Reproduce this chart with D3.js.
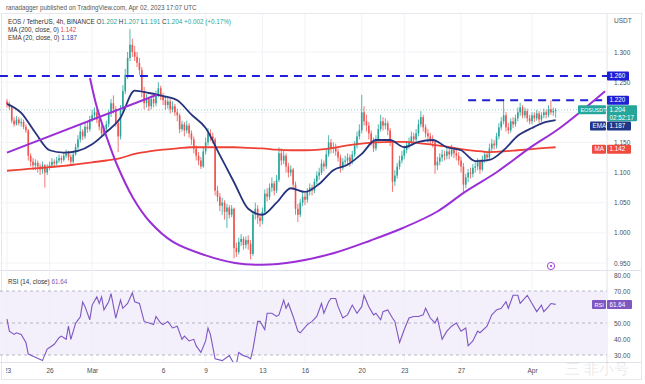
<!DOCTYPE html>
<html lang="en">
<head>
<meta charset="UTF-8">
<title>EOS / TetherUS 4h</title>
<style>
    body { margin: 0; background: #fff; }
    svg text { font-family: "Liberation Sans", Arial, sans-serif; }
    .axis text { font-size: 6.5px; fill: #4a4e59; }
    .axis path, .axis line { stroke: none; }
</style>
</head>
<body>
<script src="https://d3js.org/d3.v7.min.js"></script>
<script>
// 4h candles, EOS/USDT, starting Feb 23 2023 00:00 UTC
var firstOpen = 1.218;
var closes = [
    1.214,1.208,1.186,1.180,1.188,1.182, 1.184,1.176,1.170,1.128,1.118,1.112,
    1.116,1.110,1.105,1.112,1.100,1.108, 1.112,1.118,1.115,1.120,1.124,1.121,
    1.128,1.132,1.126,1.118,1.130,1.142, 1.155,1.168,1.160,1.176,1.172,1.188,
    1.195,1.200,1.188,1.176,1.165,1.172, 1.180,1.198,1.215,1.205,1.182,1.160,
    1.205,1.235,1.262,1.290,1.312,1.300, 1.292,1.282,1.270,1.235,1.215,1.222,
    1.210,1.222,1.215,1.230,1.240,1.226, 1.220,1.212,1.218,1.205,1.210,1.200,
    1.195,1.172,1.180,1.170,1.178,1.165, 1.155,1.140,1.128,1.120,1.110,1.135,
    1.150,1.165,1.160,1.155,1.070,1.060, 1.045,1.050,1.035,1.042,1.030,1.040,
    0.975,0.968,0.985,0.990,0.980,0.988, 0.982,0.965,1.030,1.040,1.025,1.020,
    1.035,1.065,1.060,1.075,1.082,1.070, 1.088,1.132,1.120,1.128,1.110,1.100,
    1.105,1.080,1.040,1.030,1.050,1.060, 1.055,1.068,1.075,1.070,1.085,1.095,
    1.100,1.115,1.110,1.130,1.150,1.140, 1.142,1.135,1.125,1.108,1.118,1.120,
    1.125,1.118,1.130,1.145,1.160,1.170, 1.200,1.185,1.178,1.165,1.150,1.140,
    1.155,1.172,1.185,1.178,1.182,1.170, 1.150,1.085,1.095,1.110,1.120,1.128,
    1.138,1.145,1.150,1.160,1.155,1.165, 1.180,1.192,1.175,1.165,1.160,1.155,
    1.150,1.112,1.118,1.125,1.130,1.128, 1.135,1.130,1.138,1.132,1.128,1.120,
    1.110,1.080,1.092,1.100,1.098,1.108, 1.110,1.118,1.105,1.122,1.130,1.125,
    1.140,1.148,1.145,1.160,1.175,1.185, 1.195,1.175,1.170,1.185,1.180,1.190,
    1.200,1.208,1.195,1.202,1.190,1.185, 1.195,1.190,1.198,1.188,1.195,1.200,
    1.196,1.205,1.200,1.202,1.204
];
var highs = [
    1.222,1.218,1.210,1.192,1.194,1.192, 1.190,1.188,1.180,1.172,1.132,1.124,
    1.122,1.120,1.115,1.118,1.114,1.114, 1.118,1.124,1.122,1.126,1.130,1.128,
    1.134,1.138,1.136,1.130,1.136,1.148, 1.162,1.180,1.172,1.182,1.184,1.194,
    1.204,1.208,1.204,1.192,1.180,1.178, 1.186,1.204,1.222,1.228,1.210,1.186,
    1.212,1.245,1.272,1.300,1.338,1.322, 1.310,1.300,1.290,1.275,1.242,1.230,
    1.226,1.228,1.228,1.236,1.250,1.244, 1.232,1.226,1.224,1.222,1.218,1.214,
    1.206,1.198,1.186,1.184,1.186,1.182, 1.170,1.160,1.145,1.134,1.126,1.142,
    1.158,1.174,1.172,1.166,1.158,1.078, 1.066,1.058,1.054,1.048,1.046,1.046,
    1.042,0.984,0.992,0.998,0.994,0.994, 0.996,0.988,1.036,1.050,1.046,1.032,
    1.042,1.072,1.074,1.082,1.092,1.086, 1.096,1.142,1.140,1.136,1.132,1.116,
    1.112,1.108,1.085,1.048,1.056,1.068, 1.066,1.074,1.082,1.080,1.090,1.102,
    1.108,1.122,1.120,1.138,1.162,1.156, 1.150,1.148,1.140,1.130,1.124,1.128,
    1.132,1.130,1.136,1.152,1.168,1.180, 1.229,1.210,1.196,1.184,1.170,1.158,
    1.162,1.180,1.196,1.192,1.190,1.186, 1.174,1.152,1.104,1.116,1.128,1.136,
    1.145,1.152,1.158,1.168,1.166,1.172, 1.188,1.202,1.196,1.180,1.172,1.166,
    1.162,1.154,1.126,1.132,1.138,1.136, 1.142,1.140,1.146,1.142,1.138,1.134,
    1.126,1.116,1.098,1.106,1.108,1.114, 1.118,1.124,1.122,1.128,1.136,1.134,
    1.148,1.156,1.154,1.166,1.182,1.192, 1.222,1.200,1.182,1.190,1.192,1.196,
    1.208,1.216,1.212,1.208,1.206,1.196, 1.200,1.200,1.204,1.202,1.200,1.206,
    1.204,1.212,1.220,1.208,1.207
];
var lows = [
    1.208,1.204,1.182,1.176,1.178,1.178, 1.176,1.172,1.166,1.120,1.110,1.104,
    1.104,1.100,1.096,1.098,1.075,1.096, 1.104,1.108,1.110,1.112,1.116,1.115,
    1.118,1.124,1.120,1.112,1.115,1.128, 1.138,1.150,1.154,1.156,1.166,1.168,
    1.184,1.190,1.182,1.170,1.158,1.160, 1.166,1.175,1.192,1.198,1.176,1.134,
    1.155,1.200,1.230,1.255,1.285,1.292, 1.285,1.275,1.262,1.225,1.205,1.208,
    1.202,1.205,1.208,1.210,1.225,1.220, 1.212,1.204,1.206,1.198,1.200,1.194,
    1.185,1.165,1.168,1.160,1.165,1.158, 1.146,1.132,1.120,1.112,1.106,1.108,
    1.130,1.145,1.152,1.148,1.062,1.052, 1.036,1.030,1.022,1.008,1.024,1.026,
    0.958,0.960,0.964,0.978,0.972,0.974, 0.972,0.956,0.962,1.022,1.015,1.010,
    1.014,1.030,1.052,1.055,1.068,1.062, 1.066,1.084,1.112,1.114,1.100,1.092,
    1.094,1.072,1.030,1.018,1.026,1.044, 1.046,1.050,1.062,1.062,1.066,1.080,
    1.088,1.096,1.102,1.106,1.126,1.132, 1.132,1.128,1.118,1.100,1.104,1.112,
    1.114,1.110,1.114,1.126,1.140,1.155, 1.165,1.178,1.168,1.155,1.145,1.134,
    1.136,1.150,1.168,1.170,1.172,1.162, 1.144,1.068,1.078,1.090,1.105,1.115,
    1.122,1.132,1.140,1.145,1.148,1.150, 1.160,1.175,1.168,1.158,1.150,1.146,
    1.142,1.098,1.104,1.112,1.118,1.120, 1.122,1.122,1.126,1.124,1.120,1.112,
    1.100,1.068,1.074,1.084,1.090,1.092, 1.100,1.104,1.098,1.102,1.116,1.118,
    1.122,1.134,1.138,1.140,1.155,1.170, 1.180,1.168,1.164,1.166,1.174,1.176,
    1.185,1.194,1.190,1.190,1.184,1.180, 1.180,1.184,1.186,1.182,1.184,1.190,
    1.190,1.192,1.196,1.194,1.191
];
// EMA 20 and MA 200 read once a day (every 6 candles) plus the last candle
var emaVals = [1.214,1.199,1.166,1.137,1.133,1.136,1.147,1.167,1.191,1.236,1.232,1.227,1.220,
    1.196,1.174,1.129,1.084,1.040,1.030,1.050,1.074,1.068,1.081,1.104,1.113,1.131,1.154,
    1.154,1.142,1.151,1.154,1.142,1.137,1.119,1.121,1.137,1.161,1.174,1.184,1.187];
var maVals = [1.103,1.105,1.107,1.109,1.111,1.114,1.117,1.120,1.124,1.131,1.135,1.138,1.140,
    1.142,1.142,1.142,1.142,1.141,1.140,1.138,1.137,1.137,1.138,1.141,1.145,1.148,1.150,
    1.151,1.151,1.149,1.146,1.143,1.139,1.136,1.134,1.135,1.137,1.139,1.141,1.142];
// RSI 14, read at candle indexes
var rsiIdx = [0,1,3,4,6,8,9,12,15,17,18,20,22,23,25,26,27,29,31,32,33,35,36,38,39,40,41,43,44,46,48,49,51,53,54,56,58,
    62,63,65,66,68,70,72,74,75,77,79,80,82,84,85,86,88,91,93,94,96,97,98,100,102,103,104,106,107,109,110,112,114,115,
    117,118,119,121,123,124,127,129,131,133,134,136,137,139,140,142,144,146,148,150,151,153,155,156,158,159,161,163,
    164,166,168,170,172,174,176,177,179,181,182,184,186,188,190,192,194,195,197,199,200,203,205,207,209,211,212,214,
    216,217,220,222,224,226,227,229,230,232];
var rsiVals = [52.4,44.9,42.9,43.9,42.9,37.8,30.6,28.6,26.5,33.7,34.7,36.7,40.8,41.8,39.8,48.0,39.8,49.8,53.9,63.1,
    60.2,52.0,61.2,66.3,62.2,66.3,58.2,63.3,68.4,53.1,64.3,59.2,62.2,68.8,63.3,62.2,51.0,
    49.0,54.1,50.0,49.0,51.0,46.9,48.0,39.8,41.8,38.8,39.8,35.7,31.6,38.8,46.9,42.9,27.6,26.5,28.6,29.6,24.5,24.5,
    31.6,29.6,28.6,27.6,33.7,51.0,51.0,45.9,56.1,56.1,54.1,55.1,64.3,59.2,62.2,54.1,44.9,43.9,49.0,51.0,54.1,62.2,
    56.1,63.3,65.3,65.3,60.2,53.1,55.1,61.2,56.1,60.2,67.3,60.2,55.1,56.1,52.0,57.1,58.2,53.1,51.0,37.8,45.9,53.1,
    54.1,54.1,55.1,59.2,53.1,50.0,53.1,39.8,44.9,48.0,50.0,44.9,46.9,35.7,38.8,44.9,43.9,48.0,55.1,58.2,59.2,63.3,
    59.2,67.3,67.3,62.2,67.3,62.2,57.1,61.2,57.1,60.2,62.2,61.64];
// drawn annotations: rounding-bottom arc, rising trendline, resistance levels
var arcIdx = [35.1,38.1,42.3,46.5,53.3,60.5,70.2,83.7,96.4,107.8,121.8,138.7,153.5,167.4,181.8,193.7,207.2,221.1,233.8,252.9];
var arcPrice = [1.257,1.207,1.157,1.113,1.058,1.018,0.985,0.963,0.950,0.947,0.952,0.967,0.987,1.008,1.035,1.068,1.101,1.141,1.174,1.235];
var trendIdx = [0, 63.4];
var trendPrice = [1.133, 1.229];
var levels = [1.260, 1.220];
var levelStart = [-3, 195];
// 1.200 and 60.00 sit under the value tags in the original, so they are not listed
var priceTicks = [0.95, 1.00, 1.05, 1.10, 1.15, 1.25, 1.30];
var rsiTicks = [30, 40, 50, 70, 80];
var dayTicks = ["2023-02-23","2023-02-26","2023-03-01","2023-03-06","2023-03-09","2023-03-13",
    "2023-03-16","2023-03-20","2023-03-23","2023-03-27","2023-04-01"];
var dayLabels = ["23","26","Mar","6","9","13","16","20","23","27","Apr"];

var width = 645, height = 384;
var axisX = 607;
var up = "#26a69a", down = "#ef5350", blue = "#1f1fd6", purple = "#9b2fd6";
var emaColor = "#26337d", maColor = "#ef4136", rsiColor = "#7e57c2";

var t0 = Date.UTC(2023, 1, 23), H4 = 4 * 3600 * 1000;
function tAt(i) { return new Date(t0 + i * H4); }

var x = d3.scaleTime().domain([tAt(0), tAt(253)]).range([7, 605.3]);
var y = d3.scaleLinear().domain([0.95, 1.30]).range([263, 52]);
var yr = d3.scaleLinear().domain([30, 70]).range([355, 291]);

var candles = closes.map(function (c, i) {
    var o = i ? closes[i - 1] : firstOpen;
    return { t: tAt(i), o: o, c: c, h: Math.max(highs[i], o, c), l: Math.min(lows[i], o, c) };
});
var sampleIdx = d3.range(0, 229, 6).concat([232]);

var svg = d3.select('body').append('svg').attr('width', width).attr('height', height);
var defs = svg.append('defs');
defs.append('clipPath').attr('id', 'pclip').append('rect').attr('x', 0).attr('y', 14).attr('width', axisX).attr('height', 256);
defs.append('clipPath').attr('id', 'rclip').append('rect').attr('x', 0).attr('y', 271).attr('width', axisX).attr('height', 91);
defs.append('clipPath').attr('id', 'tclip').append('rect').attr('x', 6).attr('y', 362).attr('width', axisX - 6).attr('height', 20);

// header
svg.append('text').attr('x', 6).attr('y', 10).attr('font-size', 6.3).attr('fill', '#555')
    .text('ranadagger published on TradingView.com, Apr 02, 2023 17:07 UTC');

// frame and panel separators
svg.append('rect').attr('x', 1.5).attr('y', 13.5).attr('width', 640).attr('height', 366)
    .attr('fill', 'none').attr('stroke', '#e6e8ee');
svg.append('line').attr('x1', axisX).attr('x2', axisX).attr('y1', 14).attr('y2', 362).attr('stroke', '#e0e3eb');
svg.append('line').attr('x1', 0).attr('x2', 641).attr('y1', 270.5).attr('y2', 270.5).attr('stroke', '#e0e3eb');
svg.append('line').attr('x1', 0).attr('x2', 641).attr('y1', 362.5).attr('y2', 362.5).attr('stroke', '#e0e3eb');

// RSI background band
svg.append('rect').attr('x', 0).attr('y', yr(70)).attr('width', axisX).attr('height', yr(30) - yr(70)).attr('fill', '#f3effb');

// grid
var grid = svg.append('g').attr('stroke', '#eef0f5').attr('stroke-width', 0.8);
grid.selectAll('line.v').data(dayTicks).join('line')
    .attr('x1', function (d) { return x(new Date(d + 'T00:00:00Z')); })
    .attr('x2', function (d) { return x(new Date(d + 'T00:00:00Z')); })
    .attr('y1', 14).attr('y2', 362);
grid.selectAll('line.h').data(priceTicks.concat([1.20])).join('line')
    .attr('x1', 0).attr('x2', axisX).attr('y1', function (d) { return y(d); }).attr('y2', function (d) { return y(d); });

// RSI dashed guides
svg.append('g').selectAll('line').data([70, 50, 30]).join('line')
    .attr('x1', 0).attr('x2', axisX).attr('y1', function (d) { return yr(d); }).attr('y2', function (d) { return yr(d); })
    .attr('stroke', '#9a9fab').attr('stroke-width', 0.7).attr('stroke-dasharray', '3,3');

// price panel
var pg = svg.append('g').attr('clip-path', 'url(#pclip)');

// last price dotted line
pg.append('line').attr('x1', 0).attr('x2', axisX).attr('y1', y(1.204)).attr('y2', y(1.204))
    .attr('stroke', up).attr('stroke-width', 0.7).attr('stroke-dasharray', '1,2').attr('opacity', 0.7);

pg.selectAll('line.wick').data(candles).join('line').attr('class', 'wick')
    .attr('x1', function (d) { return x(d.t); }).attr('x2', function (d) { return x(d.t); })
    .attr('y1', function (d) { return y(d.h); }).attr('y2', function (d) { return y(d.l); })
    .attr('stroke', function (d) { return d.c >= d.o ? up : down; }).attr('stroke-width', 0.8);
pg.selectAll('rect.body').data(candles).join('rect').attr('class', 'body')
    .attr('x', function (d) { return x(d.t) - 0.8; }).attr('width', 1.6)
    .attr('y', function (d) { return y(Math.max(d.o, d.c)); })
    .attr('height', function (d) { return Math.max(0.8, Math.abs(y(d.o) - y(d.c))); })
    .attr('fill', function (d) { return d.c >= d.o ? up : down; });

var lineIdx = d3.line().curve(d3.curveMonotoneX)
    .x(function (d) { return x(tAt(d[0])); }).y(function (d) { return y(d[1]); });
pg.append('path').datum(sampleIdx.map(function (k, i) { return [k, maVals[i]]; }))
    .attr('d', lineIdx).attr('fill', 'none').attr('stroke', maColor).attr('stroke-width', 1.8);
pg.append('path').datum(sampleIdx.map(function (k, i) { return [k, emaVals[i]]; }))
    .attr('d', lineIdx).attr('fill', 'none').attr('stroke', emaColor).attr('stroke-width', 1.8);

// resistance levels
pg.selectAll('line.lvl').data(levels).join('line')
    .attr('x1', function (d, i) { return x(tAt(levelStart[i])); }).attr('x2', axisX)
    .attr('y1', function (d) { return y(d); }).attr('y2', function (d) { return y(d); })
    .attr('stroke', blue).attr('stroke-width', 2).attr('stroke-dasharray', '8,6');

// trendline and arc
pg.append('line')
    .attr('x1', x(tAt(trendIdx[0]))).attr('y1', y(trendPrice[0]))
    .attr('x2', x(tAt(trendIdx[1]))).attr('y2', y(trendPrice[1]))
    .attr('stroke', purple).attr('stroke-width', 2);
pg.append('path').datum(arcIdx.map(function (k, i) { return [k, arcPrice[i]]; }))
    .attr('d', d3.line().curve(d3.curveCatmullRom)
        .x(function (d) { return x(tAt(d[0])); }).y(function (d) { return y(d[1]); }))
    .attr('fill', 'none').attr('stroke', purple).attr('stroke-width', 2);

// small target icon
svg.append('circle').attr('cx', 551).attr('cy', 266).attr('r', 3.6).attr('fill', '#fff').attr('stroke', purple).attr('stroke-width', 0.9);
svg.append('circle').attr('cx', 551).attr('cy', 266).attr('r', 1.1).attr('fill', purple);

// RSI line
var rg = svg.append('g').attr('clip-path', 'url(#rclip)');
rg.append('path').datum(rsiIdx.map(function (k, i) { return [k, rsiVals[i]]; }))
    .attr('d', d3.line().x(function (d) { return x(tAt(d[0])); }).y(function (d) { return yr(d[1]); }))
    .attr('fill', 'none').attr('stroke', rsiColor).attr('stroke-width', 1.1);

// axes
svg.append('text').attr('x', 614).attr('y', 23).attr('font-size', 6.5).attr('fill', '#4a4e59').text('USDT');
svg.append('g').attr('class', 'axis').attr('transform', 'translate(' + axisX + ',0)')
    .call(d3.axisRight(y).tickValues(priceTicks).tickFormat(d3.format('.3f')).tickSize(0).tickPadding(7));
svg.append('g').attr('class', 'axis').attr('transform', 'translate(' + axisX + ',0)')
    .call(d3.axisRight(yr).tickValues(rsiTicks).tickFormat(d3.format('.2f')).tickSize(0).tickPadding(7));
svg.append('g').attr('class', 'axis').attr('clip-path', 'url(#tclip)').append('g')
    .attr('transform', 'translate(0,365)')
    .call(d3.axisBottom(x).tickValues(dayTicks.map(function (d) { return new Date(d + 'T00:00:00Z'); }))
        .tickFormat(function (d, i) { return dayLabels[i]; }).tickSize(0).tickPadding(3));

// right-side value tags (dy nudges a tag off its neighbour, as the original does)
function tag(x0, yc, w, h, fill, lines, fs) {
    svg.append('rect').attr('x', x0).attr('y', yc - 4.5).attr('width', w).attr('height', h).attr('rx', 1).attr('fill', fill);
    lines.forEach(function (s, i) {
        svg.append('text').attr('x', x0 + 2.5).attr('y', yc + 2.2 + i * 7.5).attr('font-size', fs || 6.3).attr('fill', '#fff').text(s);
    });
}
tag(axisX, y(levels[0]), 22, 9, blue, ['1.260']);
tag(axisX, y(levels[1]), 22, 9, blue, ['1.220']);
tag(578, y(1.204), 28, 9, up, ['EOSUSDT'], 5.4);
tag(axisX, y(1.204), 30, 16, up, ['1.204', '02:52:17']);
tag(590, y(1.187) + 6, 16, 9, '#1f3585', ['EMA']);
tag(axisX, y(1.187) + 6, 24, 9, '#1f3585', ['1.187']);
tag(592, y(1.142) + 2, 14, 9, '#f04b3f', ['MA']);
tag(axisX, y(1.142) + 2, 24, 9, '#f04b3f', ['1.142']);
tag(592, yr(61.64), 14, 9, rsiColor, ['RSI'], 5.6);
tag(axisX, yr(61.64), 25, 9, rsiColor, ['61.64']);

// legends
var lg = svg.append('g').attr('font-size', 6.3);
var l1 = lg.append('text').attr('x', 8).attr('y', 24).attr('fill', '#333');
l1.append('tspan').text('EOS / TetherUS, 4h, BINANCE  ');
[['O', '1.202'], ['H', '1.207'], ['L', '1.191'], ['C', '1.204']].forEach(function (p) {
    l1.append('tspan').attr('fill', '#333').text(' ' + p[0]);
    l1.append('tspan').attr('fill', up).text(p[1]);
});
l1.append('tspan').attr('fill', up).text(' +0.002 (+0.17%)');
var l2 = lg.append('text').attr('x', 8).attr('y', 32).attr('fill', '#333');
l2.append('tspan').text('MA (200, close, 0)  ');
l2.append('tspan').attr('fill', maColor).text('1.142');
var l3 = lg.append('text').attr('x', 8).attr('y', 40).attr('fill', '#333');
l3.append('tspan').text('EMA (20, close, 0)  ');
l3.append('tspan').attr('fill', '#2447a8').text('1.187');
var l4 = lg.append('text').attr('x', 8).attr('y', 284).attr('fill', '#333');
l4.append('tspan').text('RSI (14, close)  ');
l4.append('tspan').attr('fill', rsiColor).text('61.64');

// watermark
svg.append('text').attr('x', 597).attr('y', 374).attr('font-size', 15).attr('text-anchor', 'middle')
    .attr('font-family', '"Noto Sans CJK SC", sans-serif').attr('fill', '#000').attr('opacity', 0.08).text('三 非小号');
</script>
</body>
</html>
